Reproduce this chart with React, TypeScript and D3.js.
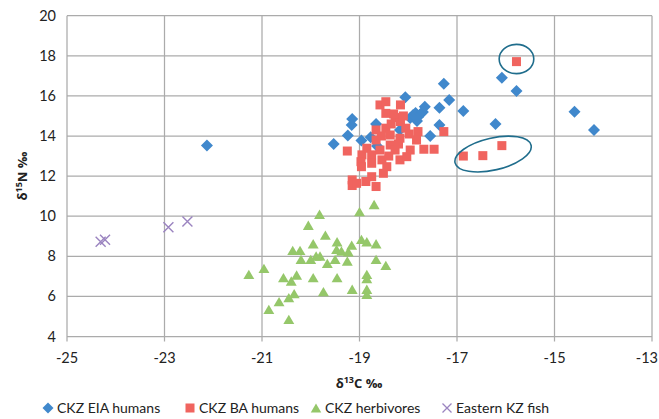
import React from "react";
import * as d3 from "d3";

const eiaHumans: [number, number][] = [
  [-22.13, 13.52], [-19.53, 13.6], [-19.24, 14.02], [-19.15, 14.85], [-19.16, 14.55],
  [-18.96, 13.77], [-18.77, 13.94], [-18.66, 14.6], [-18.64, 13.5], [-18.17, 14.3],
  [-18.06, 15.93], [-17.96, 14.9], [-17.9, 15.05], [-17.85, 15.15], [-17.8, 14.95],
  [-17.75, 15.1], [-17.7, 15.2], [-17.82, 14.75], [-17.66, 15.46], [-17.55, 14.0],
  [-17.36, 15.41], [-17.36, 14.55], [-17.27, 16.6], [-17.16, 15.8], [-16.87, 15.25],
  [-16.21, 14.6], [-16.08, 16.91], [-15.78, 16.25], [-14.59, 15.21], [-14.19, 14.3],
];

const baHumans: [number, number][] = [
  [-19.25, 13.25], [-18.58, 15.55], [-18.46, 15.71], [-18.16, 15.55], [-18.46, 15.13],
  [-18.27, 14.92], [-18.16, 14.72], [-18.05, 14.39], [-18.66, 14.3], [-18.46, 14.39],
  [-18.66, 13.8], [-18.37, 14.05], [-18.17, 13.89], [-17.8, 14.22], [-17.83, 13.8],
  [-17.27, 14.22], [-18.95, 13.06], [-18.85, 13.39], [-18.75, 13.06], [-18.58, 13.3],
  [-18.37, 13.55], [-18.27, 13.3], [-17.96, 13.3], [-17.68, 13.34], [-17.47, 13.34],
  [-18.97, 12.72], [-18.75, 12.64], [-18.54, 12.81], [-18.44, 12.47], [-18.17, 12.81],
  [-18.03, 12.97], [-18.51, 12.14], [-18.75, 11.97], [-19.15, 11.81], [-19.15, 11.53],
  [-18.87, 11.73], [-18.66, 11.48], [-19.06, 11.64], [-18.96, 12.47], [-18.3, 15.1],
  [-18.1, 15.0], [-18.35, 14.6], [-18.55, 14.0], [-18.4, 13.0], [-18.2, 13.6],
  [-17.98, 14.1], [-15.78, 17.71], [-16.08, 13.52], [-16.47, 13.02], [-16.87, 13.0],
];

const herbivores: [number, number][] = [
  [-18.7, 10.56], [-19.0, 10.2], [-19.82, 10.07], [-20.05, 9.52], [-19.7, 9.03],
  [-19.46, 8.7], [-18.96, 8.82], [-18.85, 8.7], [-18.66, 8.6], [-19.16, 8.53],
  [-19.95, 8.6], [-19.47, 8.32], [-19.37, 8.24], [-19.23, 8.2], [-20.37, 8.27],
  [-20.22, 8.27], [-19.89, 7.99], [-19.81, 7.99], [-20.2, 7.82], [-20.0, 7.82],
  [-19.5, 7.82], [-19.66, 7.62], [-19.25, 7.74], [-18.66, 7.82], [-18.46, 7.52],
  [-20.96, 7.37], [-21.27, 7.07], [-20.56, 6.91], [-20.4, 6.74], [-20.29, 7.04],
  [-19.95, 6.91], [-19.46, 6.91], [-18.85, 7.07], [-18.85, 6.86], [-20.34, 6.11],
  [-20.45, 5.91], [-20.65, 5.71], [-20.86, 5.33], [-20.45, 4.83], [-19.74, 6.21],
  [-19.15, 6.33], [-18.85, 6.33], [-18.85, 6.08],
];

const kzFish: [number, number][] = [
  [-24.31, 8.73], [-24.22, 8.82], [-22.92, 9.45], [-22.53, 9.73],
];

const xTicks = [-25, -23, -21, -19, -17, -15, -13];
const yTicks = [4, 6, 8, 10, 12, 14, 16, 18, 20];
const seriesNames = ["CKZ EIA humans", "CKZ BA humans", "CKZ herbivores", "Eastern KZ fish"];

// highlighted groups: [centerX, centerY, radiusX, radiusY (data units), rotation deg]
const highlightEllipses: [number, number, number, number, number][] = [
  [-15.78, 17.84, 0.355, 0.73, 0],
  [-16.26, 13.1, 0.8, 0.8, -13],
];

const W = 659, H = 419;
const FONT = "Lato, 'Open Sans', sans-serif";
const TITLE_FONT = "'Open Sans', Lato, sans-serif";
const BLUE = "#4088cc";
const RED = "#f0645f";
const GREEN = "#95c76a";
const PURPLE = "#9b84c0";
const GRID = "#ababab";

export default function App() {
  const x = d3.scaleLinear().domain([-25, -13]).range([67, 652]);
  const y = d3.scaleLinear().domain([4, 20]).range([336.5, 15.7]);
  const diamond = (cx: number, cy: number, r: number) =>
    `M${cx},${cy - r}L${cx + r},${cy}L${cx},${cy + r}L${cx - r},${cy}Z`;
  const tri = (cx: number, cy: number, r: number) =>
    `M${cx},${cy - r}L${cx + r * 1.05},${cy + r * 0.8}L${cx - r * 1.05},${cy + r * 0.8}Z`;
  const cross = (cx: number, cy: number, r: number) =>
    `M${cx - r},${cy - r}L${cx + r},${cy + r}M${cx - r},${cy + r}L${cx + r},${cy - r}`;
  const pxPerUnitX = x(1) - x(0);
  const pxPerUnitY = y(0) - y(1);

  const legendY = 408;
  const legendItems = [
    { x: 48, tx: 57, name: seriesNames[0], kind: "d" },
    { x: 190, tx: 199, name: seriesNames[1], kind: "s" },
    { x: 316, tx: 325, name: seriesNames[2], kind: "t" },
    { x: 447, tx: 456, name: seriesNames[3], kind: "x" },
  ];

  return (
    <div style={{ position: "absolute", left: 0, top: 0 }}>
      <svg width={W} height={H} style={{ display: "block", background: "#fff" }} fontFamily={FONT}>
        {yTicks.map((t) => (
          <line key={"gy" + t} x1={x(-25)} x2={x(-13)} y1={y(t)} y2={y(t)} stroke={GRID} strokeWidth={1.25} />
        ))}
        {xTicks.map((t) => (
          <line key={"gx" + t} x1={x(t)} x2={x(t)} y1={y(20)} y2={y(4) + 5} stroke={GRID} strokeWidth={1.25} />
        ))}
        {yTicks.map((t) => (
          <text key={"ly" + t} x={56} y={y(t)} dy="0.35em" textAnchor="end" fontSize={14.5} fill="#222">
            {t}
          </text>
        ))}
        {xTicks.map((t, i) => (
          <text key={"lx" + t} x={i === xTicks.length - 1 ? 658 : x(t)} y={358} dy="0.35em"
            textAnchor={i === xTicks.length - 1 ? "end" : "middle"} fontSize={14.5} fill="#222">
            {t}
          </text>
        ))}
        <text x={359} y={383} dy="0.35em" textAnchor="middle" fontSize={13} fontWeight={700} fill="#222" fontFamily={TITLE_FONT}>
          δ<tspan fontSize={9} dy="-5">13</tspan><tspan dy="5">C ‰</tspan>
        </text>
        <text transform={`translate(22,176) rotate(-90)`} textAnchor="middle" fontSize={13} fontWeight={700} fill="#222" dy="0.35em" fontFamily={TITLE_FONT}>
          δ<tspan fontSize={9} dy="-5">15</tspan><tspan dy="5">N ‰</tspan>
        </text>
        {eiaHumans.map((d, i) => (
          <path key={"b" + i} d={diamond(x(d[0]), y(d[1]), 6)} fill={BLUE} />
        ))}
        {baHumans.map((d, i) => (
          <rect key={"r" + i} x={x(d[0]) - 4.5} y={y(d[1]) - 4.5} width={9} height={9} fill={RED} />
        ))}
        {herbivores.map((d, i) => (
          <path key={"g" + i} d={tri(x(d[0]), y(d[1]), 5.2)} fill={GREEN} />
        ))}
        {kzFish.map((d, i) => (
          <path key={"p" + i} d={cross(x(d[0]), y(d[1]), 5)} stroke={PURPLE} strokeWidth={1.4} fill="none" />
        ))}
        {highlightEllipses.map((e, i) => {
          const cx = x(e[0]);
          const cy = y(e[1]);
          const rx = i === 0 ? e[2] * pxPerUnitX : 39;
          const ry = i === 0 ? e[3] * pxPerUnitY : 16;
          return (
            <ellipse key={"e" + i} cx={cx} cy={cy} rx={rx} ry={ry}
              transform={`rotate(${e[4]},${cx},${cy})`}
              fill="none" stroke="#1f6d8c" strokeWidth={1.6} />
          );
        })}
        {legendItems.map((it) => (
          <g key={it.name}>
            {it.kind === "d" && <path d={diamond(it.x, legendY, 5.5)} fill={BLUE} />}
            {it.kind === "s" && <rect x={it.x - 4.5} y={legendY - 4.5} width={9} height={9} fill={RED} />}
            {it.kind === "t" && <path d={tri(it.x, legendY + 0.5, 5)} fill={GREEN} />}
            {it.kind === "x" && <path d={cross(it.x, legendY, 4.5)} stroke={PURPLE} strokeWidth={1.3} fill="none" />}
            <text x={it.tx} y={legendY} dy="0.35em" fontSize={14} fill="#222">{it.name}</text>
          </g>
        ))}
      </svg>
    </div>
  );
}
